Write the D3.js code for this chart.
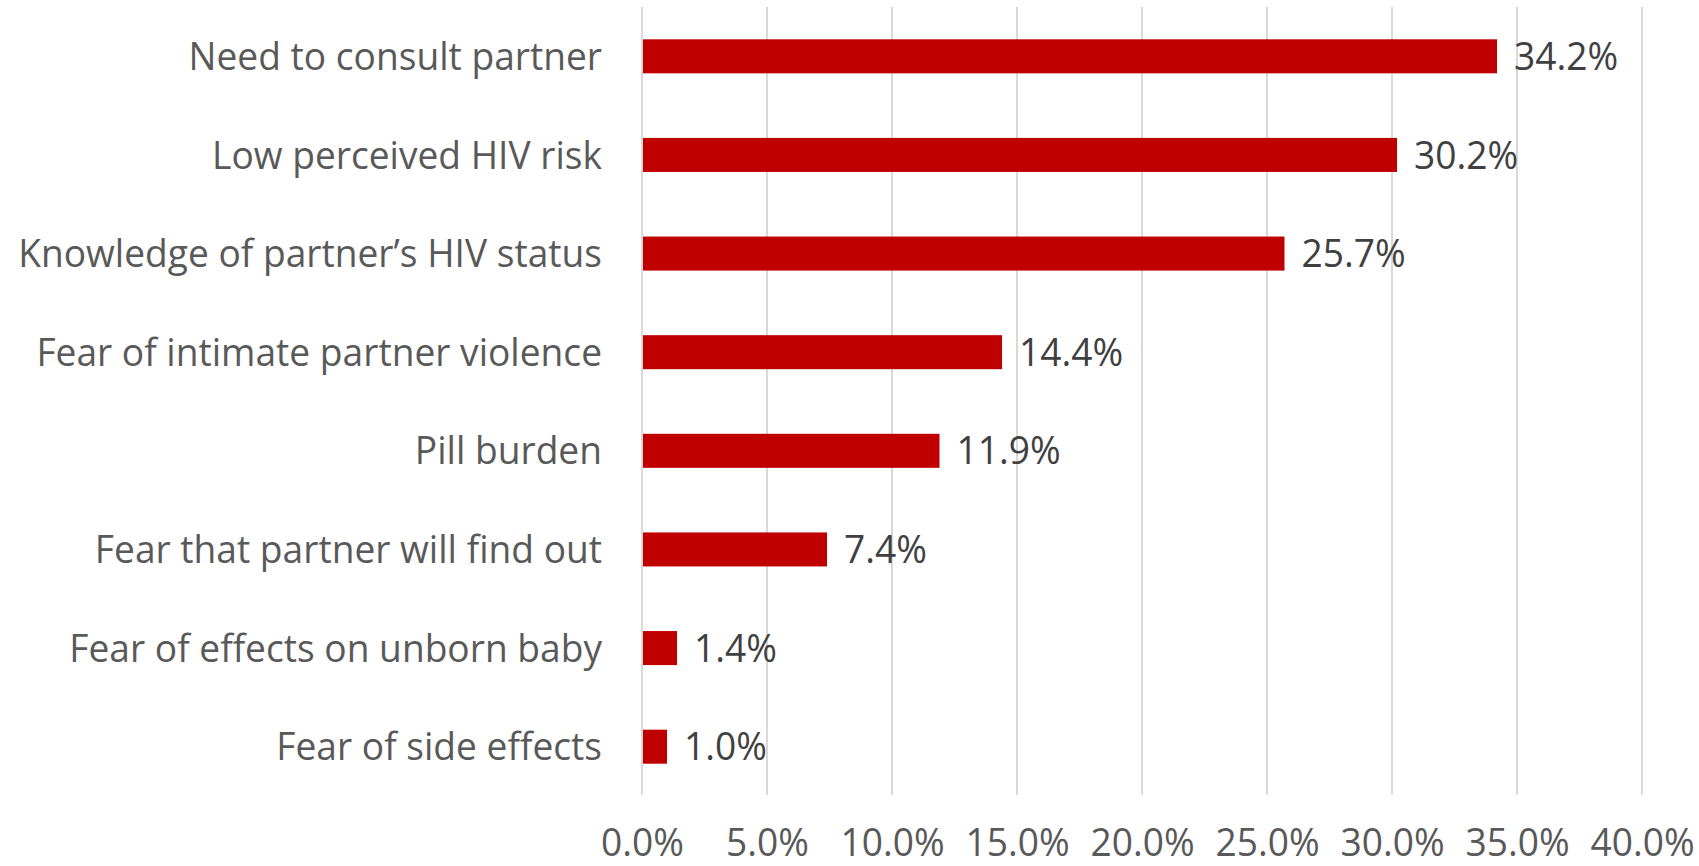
<!DOCTYPE html>
<html>
<head>
<meta charset="utf-8">
<script src="https://cdn.jsdelivr.net/npm/d3@7"></script>
<style>
  body { margin: 0; background: #fff; }
  svg text { font-family: "Open Sans", "Liberation Sans", sans-serif; }
</style>
</head>
<body>
<svg id="chart"></svg>
<script>
// data, top to bottom as in the picture
var categories = [
  "Need to consult partner",
  "Low perceived HIV risk",
  "Knowledge of partner\u2019s HIV status",
  "Fear of intimate partner violence",
  "Pill burden",
  "Fear that partner will find out",
  "Fear of effects on unborn baby",
  "Fear of side effects"
];
var values = [34.2, 30.2, 25.7, 14.4, 11.9, 7.4, 1.4, 1.0];
var tickValues = [0, 5, 10, 15, 20, 25, 30, 35, 40];

var width = 1699,
    height = 866;

var svg = d3.select('#chart').attr('width', width).attr('height', height);

var x = d3.scaleLinear().domain([0, 40]).range([642, 1642]);
var y = d3.scaleBand().domain(categories).range([7, 796])
  .paddingInner(0.655).paddingOuter(0.3275);

var fontSize = 38;

// gridlines
var grid = svg.append('g').attr('class', 'grid');
grid.selectAll('line')
  .data(tickValues)
  .enter().append('line')
  .attr('x1', function (d) { return x(d) })
  .attr('x2', function (d) { return x(d) })
  .attr('y1', 7)
  .attr('y2', 795)
  .attr('stroke', '#d9d9d9')
  .attr('stroke-width', 2);

// bars
svg.append('g').selectAll('rect')
  .data(values)
  .enter().append('rect')
  .attr('x', x(0) + 1)
  .attr('y', function (d, i) { return y(categories[i]) })
  .attr('width', function (d) { return x(d) - x(0) - 1 })
  .attr('height', y.bandwidth())
  .attr('fill', '#c00000');

// category labels
var catLabels = svg.append('g').selectAll('text')
  .data(categories)
  .enter().append('text')
  .attr('x', 602)
  .attr('y', function (d) { return y(d) + y.bandwidth() / 2 })
  .attr('dy', '0.36em')
  .attr('text-anchor', 'end')
  .attr('font-size', fontSize)
  .attr('fill', '#595959')
  .text(function (d) { return d });

// value labels
var valLabels = svg.append('g').selectAll('text')
  .data(values)
  .enter().append('text')
  .attr('x', function (d) { return x(d) + 17 })
  .attr('y', function (d, i) { return y(categories[i]) + y.bandwidth() / 2 })
  .attr('dy', '0.36em')
  .attr('font-size', fontSize)
  .attr('fill', '#404040')
  .text(function (d) { return d.toFixed(1) + '%' });

// x axis tick labels (no axis line)
var xAxis = d3.axisBottom(x)
  .tickValues(tickValues)
  .tickSize(0)
  .tickFormat(function (d) { return d.toFixed(1) + '%' });
var axisG = svg.append('g')
  .attr('transform', 'translate(0,' + 826 + ')')
  .call(xAxis);
axisG.select('.domain').remove();
axisG.selectAll('text')
  .attr('font-size', fontSize)
  .attr('font-family', '"Open Sans", "Liberation Sans", sans-serif')
  .attr('fill', '#595959');

// squeeze text horizontally so the longest label fits its width in the picture
var longest = d3.max(catLabels.nodes(), function (n) { return n.getComputedTextLength() });
var sx = 584 / longest;
catLabels.attr('transform', function () {
  var tx = +this.getAttribute('x');
  return 'translate(' + tx + ',0) scale(' + sx + ',1) translate(' + (-tx) + ',0)';
});
valLabels.attr('transform', function () {
  var tx = +this.getAttribute('x');
  return 'translate(' + tx + ',0) scale(' + sx + ',1) translate(' + (-tx) + ',0)';
});
axisG.selectAll('.tick text').attr('transform', 'scale(' + sx + ',1)');
</script>
</body>
</html>
